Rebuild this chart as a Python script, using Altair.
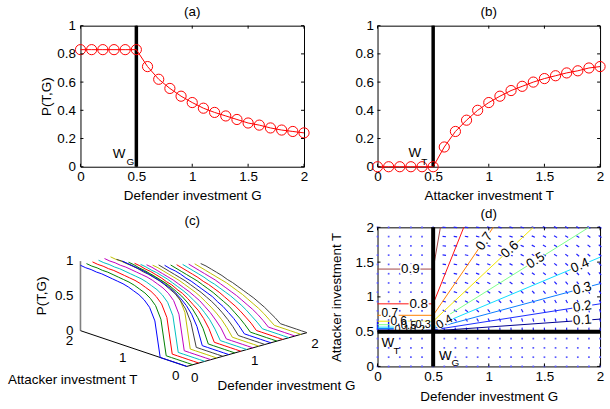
import altair as alt
import pandas as pd

FONT = "Liberation Sans"
FS = 13.5

# ---------------- values ----------------
GRID = [0.0, 0.1, 0.2, 0.3, 0.4, 0.5, 0.6, 0.7, 0.8, 0.9, 1.0,
        1.1, 1.2, 1.3, 1.4, 1.5, 1.6, 1.7, 1.8, 1.9, 2.0]
W_G = 0.5
W_T = 0.5

# (a) P(T,G) against defender investment G
P_A = [0.83, 0.83, 0.83, 0.83, 0.83, 0.83, 0.71, 0.62, 0.555, 0.50, 0.455,
       0.415, 0.385, 0.36, 0.335, 0.31, 0.295, 0.275, 0.26, 0.25, 0.24]
# (b) P(T,G) against attacker investment T
P_B = [0, 0, 0, 0, 0, 0, 0.14, 0.25, 0.33, 0.40, 0.455,
       0.50, 0.54, 0.57, 0.60, 0.625, 0.645, 0.665, 0.68, 0.70, 0.71]

TICKS_02 = [0, 0.5, 1, 1.5, 2]
TICKS_01 = [0, 0.2, 0.4, 0.6, 0.8, 1]

# (c) surface: rows T = 0.6 .. 2.0, columns G = 0.5 .. 2.0
# (curves are flat in G below W_G and zero for T <= W_T)
P_SURF = [
    [.50, .33, .25, .20, .17, .14, .13, .11, .10, .09, .08, .08, .07, .07, .06, .06],
    [.67, .50, .40, .33, .29, .25, .22, .20, .18, .17, .15, .14, .13, .13, .12, .11],
    [.75, .60, .50, .43, .38, .33, .30, .27, .25, .23, .21, .20, .19, .18, .17, .16],
    [.80, .67, .57, .50, .44, .40, .36, .33, .31, .29, .27, .25, .24, .22, .21, .20],
    [.83, .71, .63, .56, .50, .45, .42, .38, .36, .33, .31, .29, .28, .26, .25, .24],
    [.86, .75, .67, .60, .55, .50, .46, .43, .40, .38, .35, .33, .32, .30, .29, .27],
    [.88, .78, .70, .64, .58, .54, .50, .47, .44, .41, .39, .37, .35, .33, .32, .30],
    [.89, .80, .73, .67, .62, .57, .53, .50, .47, .44, .42, .40, .38, .36, .35, .33],
    [.90, .82, .75, .69, .64, .60, .56, .53, .50, .47, .45, .43, .41, .39, .38, .36],
    [.91, .83, .77, .71, .67, .63, .59, .56, .53, .50, .48, .45, .43, .42, .40, .38],
    [.92, .85, .79, .73, .69, .65, .61, .58, .55, .52, .50, .48, .46, .44, .42, .41],
    [.92, .86, .80, .75, .71, .67, .63, .60, .57, .55, .52, .50, .48, .46, .44, .43],
    [.93, .87, .81, .76, .72, .68, .65, .62, .59, .57, .54, .52, .50, .48, .46, .45],
    [.93, .88, .82, .78, .74, .70, .67, .64, .61, .58, .56, .54, .52, .50, .48, .47],
    [.94, .88, .83, .79, .75, .71, .68, .65, .63, .60, .58, .56, .54, .52, .50, .48],
]
CURVE_COLORS = ["#0000ff", "#008000", "#ff0000", "#00bfbf", "#bf00bf", "#bfbf00", "#404040"]
C_TICKS_T = [0, 1, 2]
C_TICKS_G = [0, 1, 2]
C_TICKS_P = [0, 0.5, 1]
# camera of the 3-D view (page pixels per unit of T, G, P)
PROJ = dict(x0=187.0, y0=368.0, tx=-53.5, ty=-18.0, gx=60.5, gy=-17.0, pz=-70.0)

# (d) contour lines: flat level left of W_G, then straight to an end point
LEVELS = ["0.1", "0.2", "0.3", "0.4", "0.5", "0.6", "0.7", "0.8", "0.9"]
LEVEL_T_FLAT = [0.51, 0.525, 0.545, 0.565, 0.60, 0.65, 0.735, 0.90, 1.40]
LEVEL_END_G = [2.0, 2.0, 2.0, 2.0, 1.90, 1.40, 1.04, 0.775, 0.565]
LEVEL_END_T = [0.68, 0.90, 1.19, 1.57, 2.0, 2.0, 2.0, 2.0, 2.0]
LEVEL_COLORS = ["#00008f", "#1a2cff", "#0a7cff", "#10dcff", "#7cff8a",
                "#f2e600", "#ff8000", "#ff1010", "#a04545"]
CLAB_TEXT = ["0.9", "0.8", "0.7", "0.6", "0.5", "0.4", "0.3", "0.2", "0.1",
             "0.7", "0.6", "0.5", "0.3", "0.2", "0.1", "0.4"]
CLAB_G = [0.295, 0.37, 0.96, 1.19, 1.42, 1.82, 1.84, 1.84, 1.84,
          0.11, 0.19, 0.28, 0.41, 0.36, 0.22, 0.60]
CLAB_T = [1.40, 0.90, 1.80, 1.68, 1.52, 1.45, 1.12, 0.86, 0.665,
          0.765, 0.66, 0.585, 0.59, 0.53, 0.525, 0.645]
CLAB_ANGLE = [0, 0, 305, 317, 328, 337, 345, 351, 356, 0, 0, 0, 0, 0, 0, 330]
CLAB_SIZE = [13.5, 13.5, 13.5, 13.5, 13.5, 13.5, 13.5, 13.5, 13.5,
             12, 12, 11.5, 11, 11, 11, 12]
Q_T = [0.0, 0.133, 0.267, 0.4, 0.533, 0.667, 0.8, 0.933, 1.067, 1.2,
       1.333, 1.467, 1.6, 1.733, 1.867, 2.0]

W1, W2, H1, H2 = 225, 224, 142, 140
TICK_LEN = 3
LABEL_BOX = "M-1,-0.5L1,-0.5L1,0.5L-1,0.5Z"


def box_ticks(X, Y, xf, yf, xticks, yticks, w, h):
    xt = pd.DataFrame({xf: xticks})
    yt = pd.DataFrame({yf: yticks})
    r = dict(color="black", strokeWidth=1)
    return [
        alt.Chart(xt).mark_rule(**r).encode(x=X, y=alt.value(h), y2=alt.value(h - TICK_LEN)),
        alt.Chart(xt).mark_rule(**r).encode(x=X, y=alt.value(0), y2=alt.value(TICK_LEN)),
        alt.Chart(yt).mark_rule(**r).encode(y=Y, x=alt.value(0), x2=alt.value(TICK_LEN)),
        alt.Chart(yt).mark_rule(**r).encode(y=Y, x=alt.value(w - TICK_LEN), x2=alt.value(w)),
    ]


def title(t, off):
    return alt.TitleParams(t, font=FONT, fontSize=FS, fontWeight="normal", offset=off,
                           anchor="middle", color="black")


def sc(lo, hi):
    return alt.Scale(domain=[lo, hi], nice=False, zero=False)


def w_text(df, X, Y, main, sub, m_align, m_dx, m_dy, s_dx, s_dy):
    return [
        alt.Chart(df).mark_text(text=main, font=FONT, fontSize=FS, align=m_align,
                                baseline="alphabetic", dx=m_dx, dy=m_dy, color="black").encode(x=X, y=Y),
        alt.Chart(df).mark_text(text=sub, font=FONT, fontSize=10, align="left",
                                baseline="alphabetic", dx=s_dx, dy=s_dy, color="black").encode(x=X, y=Y),
    ]


# ---------------- (a) ----------------
df_a = pd.DataFrame({"G": GRID, "P": P_A})
Xa = alt.X("G:Q", scale=sc(0, 2), axis=alt.Axis(values=TICKS_02, format="~g",
           title="Defender investment G", labelPadding=3, titlePadding=5))
Ya = alt.Y("P:Q", scale=sc(0, 1), axis=alt.Axis(values=TICKS_01, format="~g",
           title="P(T,G)", labelPadding=5, titlePadding=3))
wa = pd.DataFrame({"G": [W_G], "P": [0.0]})
pa = alt.layer(
    alt.Chart(wa).mark_rule(color="black", strokeWidth=3.5).encode(x=Xa),
    alt.Chart(df_a).mark_line(color="red", strokeWidth=1).encode(x=Xa, y=Ya),
    alt.Chart(df_a).mark_point(shape="circle", filled=False, color="red", size=105,
                               strokeWidth=1, opacity=1).encode(x=Xa, y=Ya),
    *w_text(wa, Xa, Ya, "W", "G", "right", -11, -9, -10, -2),
    *box_ticks(Xa, Ya, "G", "P", TICKS_02, TICKS_01, W1, H1),
).properties(width=W1, height=H1, title=title("(a)", 0.5))

# ---------------- (b) ----------------
df_b = pd.DataFrame({"T": GRID, "P": P_B})
Xb = alt.X("T:Q", scale=sc(0, 2), axis=alt.Axis(values=TICKS_02, format="~g",
           title="Attacker investment T", labelPadding=3, titlePadding=5))
Yb = alt.Y("P:Q", scale=sc(0, 1), axis=alt.Axis(values=TICKS_01, format="~g",
           title="", labelPadding=4))
wb = pd.DataFrame({"T": [W_T], "P": [0.0]})
pb = alt.layer(
    alt.Chart(wb).mark_rule(color="black", strokeWidth=3.5).encode(x=Xb),
    alt.Chart(df_b).mark_line(color="red", strokeWidth=1).encode(x=Xb, y=Yb),
    alt.Chart(df_b).mark_point(shape="circle", filled=False, color="red", size=105,
                               strokeWidth=1, opacity=1).encode(x=Xb, y=Yb),
    *w_text(wb, Xb, Yb, "W", "T", "right", -12, -10, -12, -2),
    *box_ticks(Xb, Yb, "T", "P", TICKS_02, TICKS_01, W2, H1),
).properties(width=W2, height=H1, title=title("(b)", 0.5))

# ---------------- (c) 3-D waterfall ----------------
rows = []
for j, g in enumerate(GRID):
    for k, t in enumerate(GRID):
        p = 0.0 if t <= W_T else P_SURF[k - 6][max(j - 5, 0)]
        rows.append({"T": t, "G": g, "P": p, "curve": j, "col": f"c{j % 7}"})
surf = pd.DataFrame(rows)

PX = f"{PROJ['x0']} + ({PROJ['tx']})*datum.T + ({PROJ['gx']})*datum.G"
PY = f"{PROJ['y0']} + ({PROJ['ty']})*datum.T + ({PROJ['gy']})*datum.G + ({PROJ['pz']})*datum.P"
Xc = alt.X("px:Q", scale=sc(80, 80 + W1), axis=None)
Yc = alt.Y("py:Q", scale=alt.Scale(domain=[228, 228 + H2], reverse=True, nice=False, zero=False),
           axis=None)


def pc_chart(df):
    return alt.Chart(df).transform_calculate(px=PX, py=PY)


axP = pd.DataFrame({"T": [C_TICKS_T[-1]] * 2, "G": [0, 0], "P": [C_TICKS_P[0], C_TICKS_P[-1]]})
axT = pd.DataFrame({"T": [C_TICKS_T[0], C_TICKS_T[-1]], "G": [0, 0], "P": [0, 0]})
axG = pd.DataFrame({"T": [0, 0], "G": [C_TICKS_G[0], C_TICKS_G[-1]], "P": [0, 0]})
labP = pd.DataFrame({"T": C_TICKS_T[-1], "G": 0, "P": C_TICKS_P, "lab": ["0", "0.5", "1"]})
labT = pd.DataFrame({"T": C_TICKS_T, "G": 0, "P": 0, "lab": ["0", "1", "2"]})
labG = pd.DataFrame({"T": 0, "G": C_TICKS_G, "P": 0, "lab": ["0", "1", "2"]})
anc_P = pd.DataFrame({"T": [2], "G": [0], "P": [0.5]})
anc_T = pd.DataFrame({"T": [1], "G": [0], "P": [0]})
anc_G = pd.DataFrame({"T": [0], "G": [1], "P": [0]})
txt = dict(font=FONT, fontSize=FS, color="black")

pc = alt.layer(
    pc_chart(axP).mark_line(color="#808080", strokeWidth=1.6).encode(x=Xc, y=Yc, order="P:Q"),
    pc_chart(axT).mark_line(color="black", strokeWidth=1).encode(x=Xc, y=Yc, order="T:Q"),
    pc_chart(axG).mark_line(color="black", strokeWidth=1).encode(x=Xc, y=Yc, order="G:Q"),
    pc_chart(surf).mark_line(strokeWidth=1).encode(
        x=Xc, y=Yc, detail="curve:N", order="T:Q",
        color=alt.Color("col:N", scale=alt.Scale(domain=[f"c{i}" for i in range(7)],
                                                 range=CURVE_COLORS), legend=None)),
    pc_chart(labP).mark_text(align="right", baseline="middle", dx=-7, **txt).encode(
        x=Xc, y=Yc, text="lab:N"),
    pc_chart(labT).mark_text(align="center", baseline="middle", dx=-11, dy=10, **txt).encode(
        x=Xc, y=Yc, text="lab:N"),
    pc_chart(labG).mark_text(align="center", baseline="middle", dx=8, dy=11.5, **txt).encode(
        x=Xc, y=Yc, text="lab:N"),
    pc_chart(anc_P).mark_text(text="P(T,G)", angle=270, align="center", baseline="middle",
                              xOffset=-39, **txt).encode(x=Xc, y=Yc),
    pc_chart(anc_T).mark_text(text="Attacker investment T", align="left", baseline="middle",
                              dx=-126.5, dy=32, **txt).encode(x=Xc, y=Yc),
    pc_chart(anc_G).mark_text(text="Defender investment G", align="left", baseline="middle",
                              dx=-29.5, dy=36.5, **txt).encode(x=Xc, y=Yc),
).properties(width=W1, height=H2, title=title("(c)", 0),
             view=alt.ViewBackground(stroke="transparent"))

# ---------------- (d) contour + quiver ----------------
Xd = alt.X("G:Q", scale=sc(0, 2), axis=alt.Axis(values=TICKS_02, format="~g",
           title="Defender investment G", labelPadding=3, titlePadding=7))
Yd = alt.Y("T:Q", scale=sc(0, 2), axis=alt.Axis(values=TICKS_02, format="~g",
           title="Attacker investment T", labelPadding=4, titlePadding=12))

crow = []
for lev, tf, ge, te in zip(LEVELS, LEVEL_T_FLAT, LEVEL_END_G, LEVEL_END_T):
    crow += [{"level": lev, "k": 0, "G": GRID[0], "T": tf},
             {"level": lev, "k": 1, "G": W_G, "T": tf},
             {"level": lev, "k": 2, "G": ge, "T": te}]
cont = pd.DataFrame(crow)
clab = pd.DataFrame({"G": CLAB_G, "T": CLAB_T, "lab": CLAB_TEXT, "ang": CLAB_ANGLE,
                     "fs": CLAB_SIZE})
clab["box"] = (clab["fs"] * 1.5) ** 2

quiv = pd.DataFrame([(g, t) for g in GRID for t in Q_T], columns=["G", "T"])
act_mask = (quiv["G"] > W_G) & (quiv["T"] > W_T)
q_act = quiv[act_mask].reset_index(drop=True)
q_rest = quiv[~act_mask].reset_index(drop=True)
q_left = quiv[(quiv["G"] < W_G) & (quiv["T"] == Q_T[4])].reset_index(drop=True)

SXp, SYp = W2 / 2.0, H2 / 2.0
ANG = (f"(atan2(-{SYp}*(datum.G-({W_G}-0.1)), -{SXp}*(datum.T-{W_T}))*180/PI+360)%180")

pdd = alt.layer(
    alt.Chart(q_rest).mark_square(size=3, color="#5a5aff", opacity=1).encode(x=Xd, y=Yd),
    alt.Chart(q_act).transform_calculate(ang=ANG).mark_point(
        shape="stroke", size=12, strokeWidth=1.2, color="#2020ff", opacity=1).encode(
        x=Xd, y=Yd, angle=alt.Angle("ang:Q", scale=None)),
    alt.Chart(q_left).mark_point(shape="stroke", size=64, strokeWidth=1.5, color="#1010ff",
                                 opacity=1, angle=90, yOffset=-4).encode(x=Xd, y=Yd),
    alt.Chart(cont).mark_line(strokeWidth=1).encode(
        x=Xd, y=Yd, detail="level:N", order="k:Q",
        color=alt.Color("level:N", scale=alt.Scale(domain=LEVELS, range=LEVEL_COLORS),
                        legend=None)),
    alt.Chart(clab).mark_point(shape=LABEL_BOX, filled=True, color="white",
                               opacity=1).encode(
        x=Xd, y=Yd, angle=alt.Angle("ang:Q", scale=None),
        size=alt.Size("box:Q", scale=None)),
    alt.Chart(clab).mark_text(font=FONT, color="black", align="center",
                              baseline="middle").encode(
        x=Xd, y=Yd, text="lab:N", angle=alt.Angle("ang:Q", scale=None),
        size=alt.Size("fs:Q", scale=None)),
    alt.Chart(pd.DataFrame({"G": [W_G]})).mark_rule(color="black", strokeWidth=4).encode(x=Xd),
    alt.Chart(pd.DataFrame({"T": [W_T]})).mark_rule(color="black", strokeWidth=4).encode(y=Yd),
    *w_text(pd.DataFrame({"G": [0.0], "T": [W_T]}), Xd, Yd, "W", "T", "left", 4, 15, 16, 22),
    *w_text(pd.DataFrame({"G": [W_G], "T": [0.0]}), Xd, Yd, "W", "G", "left", 6, -6, 18.5, 0),
    *box_ticks(Xd, Yd, "G", "T", TICKS_02, TICKS_02, W2, H2),
).properties(width=W2, height=H2, title=title("(d)", 0))

chart = alt.concat(
    pa, pb, pc, pdd, columns=2, spacing={"row": 61, "column": 74}, bounds="flush"
).resolve_scale(
    color="independent", size="independent"
).properties(
    padding={"left": 7, "top": 2.5, "right": 2, "bottom": 0}, background="white"
).configure_axis(
    labelFont=FONT, titleFont=FONT, labelFontSize=FS, titleFontSize=FS,
    titleFontWeight="normal", labelColor="black", titleColor="black",
    ticks=False, domain=False, grid=False, labelFlush=False, labelOverlap=False
).configure_view(stroke="black", strokeWidth=1)

chart.save("out.html", embed_options={"renderer": "svg", "actions": False})
